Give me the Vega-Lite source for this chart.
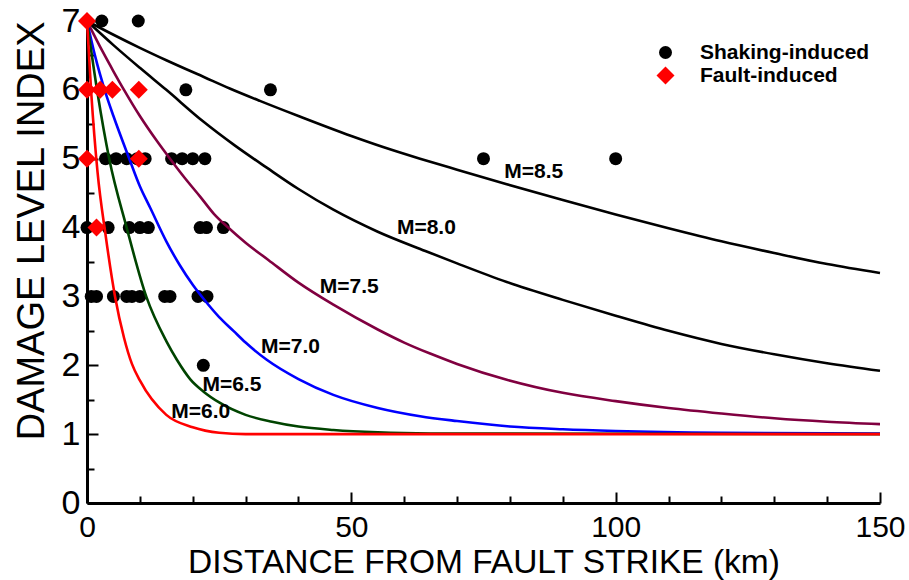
{
  "$schema": "https://vega.github.io/schema/vega-lite/v6.json",
  "width": 793,
  "height": 482,
  "autosize": {"type": "none"},
  "padding": {"left": 87, "top": 21, "right": 29, "bottom": 77},
  "background": "white",
  "datasets": {
    "points": [
      {"x": 2.8, "y": 7, "type": "Shaking-induced"},
      {"x": 9.7, "y": 7, "type": "Shaking-induced"},
      {"x": 18.7, "y": 6, "type": "Shaking-induced"},
      {"x": 34.7, "y": 6, "type": "Shaking-induced"},
      {"x": 3.5, "y": 5, "type": "Shaking-induced"},
      {"x": 5.5, "y": 5, "type": "Shaking-induced"},
      {"x": 7.5, "y": 5, "type": "Shaking-induced"},
      {"x": 9.5, "y": 5, "type": "Shaking-induced"},
      {"x": 11, "y": 5, "type": "Shaking-induced"},
      {"x": 16, "y": 5, "type": "Shaking-induced"},
      {"x": 18, "y": 5, "type": "Shaking-induced"},
      {"x": 20, "y": 5, "type": "Shaking-induced"},
      {"x": 22.3, "y": 5, "type": "Shaking-induced"},
      {"x": 75, "y": 5, "type": "Shaking-induced"},
      {"x": 100, "y": 5, "type": "Shaking-induced"},
      {"x": 0, "y": 4, "type": "Shaking-induced"},
      {"x": 4, "y": 4, "type": "Shaking-induced"},
      {"x": 8, "y": 4, "type": "Shaking-induced"},
      {"x": 10, "y": 4, "type": "Shaking-induced"},
      {"x": 11.6, "y": 4, "type": "Shaking-induced"},
      {"x": 21.4, "y": 4, "type": "Shaking-induced"},
      {"x": 22.6, "y": 4, "type": "Shaking-induced"},
      {"x": 25.8, "y": 4, "type": "Shaking-induced"},
      {"x": 0.8, "y": 3, "type": "Shaking-induced"},
      {"x": 1.8, "y": 3, "type": "Shaking-induced"},
      {"x": 5, "y": 3, "type": "Shaking-induced"},
      {"x": 7.5, "y": 3, "type": "Shaking-induced"},
      {"x": 8.5, "y": 3, "type": "Shaking-induced"},
      {"x": 10, "y": 3, "type": "Shaking-induced"},
      {"x": 14.7, "y": 3, "type": "Shaking-induced"},
      {"x": 15.7, "y": 3, "type": "Shaking-induced"},
      {"x": 21, "y": 3, "type": "Shaking-induced"},
      {"x": 22.7, "y": 3, "type": "Shaking-induced"},
      {"x": 22, "y": 2, "type": "Shaking-induced"},
      {"x": 0, "y": 7, "type": "Fault-induced"},
      {"x": 0, "y": 6, "type": "Fault-induced"},
      {"x": 2.5, "y": 6, "type": "Fault-induced"},
      {"x": 4.8, "y": 6, "type": "Fault-induced"},
      {"x": 9.8, "y": 6, "type": "Fault-induced"},
      {"x": 0, "y": 5, "type": "Fault-induced"},
      {"x": 9.8, "y": 5, "type": "Fault-induced"},
      {"x": 1.8, "y": 4, "type": "Fault-induced"}
    ],
    "curves": [
      {"M": "M=8.5", "x": 0, "y": 7},
      {"M": "M=8.5", "x": 5, "y": 6.8},
      {"M": "M=8.5", "x": 10, "y": 6.61},
      {"M": "M=8.5", "x": 15, "y": 6.43},
      {"M": "M=8.5", "x": 22.3, "y": 6.18},
      {"M": "M=8.5", "x": 27, "y": 6.02},
      {"M": "M=8.5", "x": 32.7, "y": 5.84},
      {"M": "M=8.5", "x": 40, "y": 5.62},
      {"M": "M=8.5", "x": 50, "y": 5.33},
      {"M": "M=8.5", "x": 56, "y": 5.17},
      {"M": "M=8.5", "x": 63, "y": 5.0},
      {"M": "M=8.5", "x": 70, "y": 4.84},
      {"M": "M=8.5", "x": 79.4, "y": 4.63},
      {"M": "M=8.5", "x": 90, "y": 4.4},
      {"M": "M=8.5", "x": 100, "y": 4.19},
      {"M": "M=8.5", "x": 110, "y": 3.99},
      {"M": "M=8.5", "x": 120, "y": 3.8},
      {"M": "M=8.5", "x": 130, "y": 3.63},
      {"M": "M=8.5", "x": 140, "y": 3.47},
      {"M": "M=8.5", "x": 150, "y": 3.34},
      {"M": "M=8.0", "x": 0, "y": 7},
      {"M": "M=8.0", "x": 5, "y": 6.65},
      {"M": "M=8.0", "x": 10, "y": 6.32},
      {"M": "M=8.0", "x": 15, "y": 6.0},
      {"M": "M=8.0", "x": 22, "y": 5.54},
      {"M": "M=8.0", "x": 28, "y": 5.19},
      {"M": "M=8.0", "x": 34, "y": 4.87},
      {"M": "M=8.0", "x": 40, "y": 4.56},
      {"M": "M=8.0", "x": 46.6, "y": 4.26},
      {"M": "M=8.0", "x": 55, "y": 3.94},
      {"M": "M=8.0", "x": 64, "y": 3.66},
      {"M": "M=8.0", "x": 70, "y": 3.48},
      {"M": "M=8.0", "x": 79.4, "y": 3.21},
      {"M": "M=8.0", "x": 90, "y": 2.95},
      {"M": "M=8.0", "x": 100, "y": 2.72},
      {"M": "M=8.0", "x": 110, "y": 2.5},
      {"M": "M=8.0", "x": 120, "y": 2.31},
      {"M": "M=8.0", "x": 130, "y": 2.16},
      {"M": "M=8.0", "x": 140, "y": 2.03},
      {"M": "M=8.0", "x": 150, "y": 1.92},
      {"M": "M=7.5", "x": 0, "y": 7},
      {"M": "M=7.5", "x": 3, "y": 6.55},
      {"M": "M=7.5", "x": 5, "y": 6.27},
      {"M": "M=7.5", "x": 7, "y": 6.0},
      {"M": "M=7.5", "x": 10, "y": 5.62},
      {"M": "M=7.5", "x": 13.2, "y": 5.26},
      {"M": "M=7.5", "x": 15.7, "y": 5.0},
      {"M": "M=7.5", "x": 18.5, "y": 4.72},
      {"M": "M=7.5", "x": 21.4, "y": 4.45},
      {"M": "M=7.5", "x": 24, "y": 4.2},
      {"M": "M=7.5", "x": 26.7, "y": 4.0},
      {"M": "M=7.5", "x": 30, "y": 3.78},
      {"M": "M=7.5", "x": 34.3, "y": 3.53},
      {"M": "M=7.5", "x": 40, "y": 3.2},
      {"M": "M=7.5", "x": 46.6, "y": 2.88},
      {"M": "M=7.5", "x": 55, "y": 2.52},
      {"M": "M=7.5", "x": 60, "y": 2.33},
      {"M": "M=7.5", "x": 64.9, "y": 2.17},
      {"M": "M=7.5", "x": 70, "y": 2.02},
      {"M": "M=7.5", "x": 79.4, "y": 1.79},
      {"M": "M=7.5", "x": 90, "y": 1.6},
      {"M": "M=7.5", "x": 100, "y": 1.48},
      {"M": "M=7.5", "x": 110, "y": 1.38},
      {"M": "M=7.5", "x": 120, "y": 1.3},
      {"M": "M=7.5", "x": 130, "y": 1.23},
      {"M": "M=7.5", "x": 140, "y": 1.18},
      {"M": "M=7.5", "x": 150, "y": 1.145},
      {"M": "M=7.0", "x": 0, "y": 7},
      {"M": "M=7.0", "x": 1.5, "y": 6.5},
      {"M": "M=7.0", "x": 3.5, "y": 5.96},
      {"M": "M=7.0", "x": 5, "y": 5.62},
      {"M": "M=7.0", "x": 8, "y": 5.0},
      {"M": "M=7.0", "x": 10, "y": 4.6},
      {"M": "M=7.0", "x": 12, "y": 4.28},
      {"M": "M=7.0", "x": 15, "y": 3.8},
      {"M": "M=7.0", "x": 17.5, "y": 3.46},
      {"M": "M=7.0", "x": 20, "y": 3.17},
      {"M": "M=7.0", "x": 22, "y": 2.97},
      {"M": "M=7.0", "x": 25, "y": 2.7},
      {"M": "M=7.0", "x": 27.7, "y": 2.5},
      {"M": "M=7.0", "x": 30, "y": 2.33},
      {"M": "M=7.0", "x": 34, "y": 2.08},
      {"M": "M=7.0", "x": 40, "y": 1.8},
      {"M": "M=7.0", "x": 46.6, "y": 1.57},
      {"M": "M=7.0", "x": 55, "y": 1.38},
      {"M": "M=7.0", "x": 63, "y": 1.26},
      {"M": "M=7.0", "x": 70, "y": 1.19},
      {"M": "M=7.0", "x": 80, "y": 1.11},
      {"M": "M=7.0", "x": 90, "y": 1.07},
      {"M": "M=7.0", "x": 100, "y": 1.045},
      {"M": "M=7.0", "x": 120, "y": 1.02},
      {"M": "M=7.0", "x": 150, "y": 1.01},
      {"M": "M=6.5", "x": 0, "y": 7},
      {"M": "M=6.5", "x": 2, "y": 5.95},
      {"M": "M=6.5", "x": 4.2, "y": 5.0},
      {"M": "M=6.5", "x": 7.5, "y": 4.0},
      {"M": "M=6.5", "x": 11.2, "y": 3.0},
      {"M": "M=6.5", "x": 15, "y": 2.35},
      {"M": "M=6.5", "x": 17, "y": 2.08},
      {"M": "M=6.5", "x": 19.5, "y": 1.8},
      {"M": "M=6.5", "x": 22, "y": 1.62},
      {"M": "M=6.5", "x": 25, "y": 1.46},
      {"M": "M=6.5", "x": 30, "y": 1.28},
      {"M": "M=6.5", "x": 35, "y": 1.18},
      {"M": "M=6.5", "x": 40, "y": 1.11},
      {"M": "M=6.5", "x": 46.6, "y": 1.06},
      {"M": "M=6.5", "x": 55, "y": 1.025},
      {"M": "M=6.5", "x": 65, "y": 1.01},
      {"M": "M=6.5", "x": 150, "y": 1.0},
      {"M": "M=6.0", "x": 0, "y": 7},
      {"M": "M=6.0", "x": 0.8, "y": 5.96},
      {"M": "M=6.0", "x": 2, "y": 4.8},
      {"M": "M=6.0", "x": 3.5, "y": 3.9},
      {"M": "M=6.0", "x": 5.3, "y": 3.0},
      {"M": "M=6.0", "x": 7, "y": 2.4},
      {"M": "M=6.0", "x": 8.5, "y": 2.02},
      {"M": "M=6.0", "x": 10, "y": 1.78},
      {"M": "M=6.0", "x": 15, "y": 1.28},
      {"M": "M=6.0", "x": 20, "y": 1.1},
      {"M": "M=6.0", "x": 25, "y": 1.02},
      {"M": "M=6.0", "x": 30, "y": 1.0},
      {"M": "M=6.0", "x": 150, "y": 1.0}
    ],
    "labels": [
      {"M": "M=8.5", "x": 84.5, "y": 4.81},
      {"M": "M=8.0", "x": 64.2, "y": 4.0},
      {"M": "M=7.5", "x": 49.6, "y": 3.13},
      {"M": "M=7.0", "x": 38.5, "y": 2.27},
      {"M": "M=6.5", "x": 27.4, "y": 1.71},
      {"M": "M=6.0", "x": 21.5, "y": 1.32}
    ]
  },
  "layer": [
    {
      "data": {"name": "points"},
      "transform": [{"filter": "datum.type === 'Shaking-induced'"}],
      "mark": {"type": "point", "filled": true, "opacity": 1, "strokeWidth": 0},
      "encoding": {
        "x": {
          "field": "x", "type": "quantitative",
          "scale": {"domain": [0, 150], "nice": false, "zero": false},
          "axis": {
            "orient": "bottom", "values": [10, 20, 30, 40, 60, 70, 80, 90, 110, 120, 130, 140],
            "labels": false, "domain": false, "title": null, "grid": false,
            "tickSize": -7, "tickWidth": 2, "tickColor": "black"
          }
        },
        "y": {
          "field": "y", "type": "quantitative",
          "scale": {"domain": [0, 7], "nice": false, "zero": false},
          "axis": {
            "orient": "left", "values": [0.5, 1.5, 2.5, 3.5, 4.5, 5.5, 6.5],
            "labels": false, "domain": false, "title": null, "grid": false,
            "tickSize": -7, "tickWidth": 2, "tickColor": "black"
          }
        },
        "fill": {
          "field": "type", "type": "nominal",
          "scale": {"domain": ["Shaking-induced", "Fault-induced"], "range": ["black", "#ff0000"]},
          "legend": {"title": null}
        },
        "shape": {
          "field": "type", "type": "nominal",
          "scale": {"domain": ["Shaking-induced", "Fault-induced"], "range": ["circle", "diamond"]},
          "legend": {"title": null}
        },
        "size": {
          "field": "type", "type": "nominal",
          "scale": {"domain": ["Shaking-induced", "Fault-induced"], "range": [169, 324]},
          "legend": {"title": null}
        }
      }
    },
    {
      "data": {"name": "curves"},
      "mark": {"type": "line", "strokeWidth": 2.6, "interpolate": "monotone"},
      "encoding": {
        "x": {
          "field": "x", "type": "quantitative",
          "axis": {
            "orient": "bottom", "values": [0, 50, 100, 150],
            "title": "DISTANCE FROM FAULT STRIKE (km)",
            "grid": false, "tickSize": -11, "tickWidth": 2, "tickColor": "black",
            "domainWidth": 3, "domainColor": "black",
            "labelFont": "Liberation Sans, Arial, sans-serif",
            "labelFontSize": 30, "labelColor": "black",
            "labelBaseline": "alphabetic", "labelPadding": 44,
            "labelFlush": false, "labelOverlap": false, "labelBound": false,
            "titleFont": "Liberation Sans, Arial, sans-serif",
            "titleFontSize": 33.5, "titleFontWeight": "normal", "titleColor": "black",
            "titleY": 69, "titleBaseline": "alphabetic"
          }
        },
        "y": {
          "field": "y", "type": "quantitative",
          "axis": {
            "orient": "left", "values": [0, 1, 2, 3, 4, 5, 6, 7],
            "title": "DAMAGE LEVEL INDEX",
            "grid": false, "tickSize": -11, "tickWidth": 2, "tickColor": "black",
            "domainWidth": 3, "domainColor": "black",
            "labelFont": "Liberation Sans, Arial, sans-serif",
            "labelFontSize": 34, "labelColor": "black", "labelPadding": 18,
            "labelFlush": false, "labelOverlap": false, "labelBound": false,
            "titleFont": "Liberation Sans, Arial, sans-serif",
            "titleFontSize": 38, "titleFontWeight": "normal", "titleColor": "black",
            "titleAnchor": "end", "titleX": -36
          }
        },
        "stroke": {
          "field": "M", "type": "nominal",
          "scale": {
            "domain": ["M=8.5", "M=8.0", "M=7.5", "M=7.0", "M=6.5", "M=6.0"],
            "range": ["black", "black", "#800040", "#0000ff", "#004400", "#ff0000"]
          },
          "legend": null
        },
        "detail": {"field": "M", "type": "nominal"}
      }
    },
    {
      "data": {"name": "points"},
      "transform": [{"filter": "datum.type === 'Fault-induced'"}],
      "mark": {"type": "point", "filled": true, "opacity": 1, "strokeWidth": 0},
      "encoding": {
        "x": {"field": "x", "type": "quantitative", "axis": null},
        "y": {"field": "y", "type": "quantitative", "axis": null},
        "fill": {"field": "type", "type": "nominal", "legend": {"title": null}},
        "shape": {"field": "type", "type": "nominal", "legend": {"title": null}},
        "size": {"field": "type", "type": "nominal", "legend": {"title": null}}
      }
    },
    {
      "data": {"name": "labels"},
      "mark": {
        "type": "text", "font": "Liberation Sans, Arial, sans-serif",
        "fontSize": 21, "fontWeight": "bold", "color": "black",
        "align": "center", "baseline": "middle"
      },
      "encoding": {
        "x": {"field": "x", "type": "quantitative", "axis": null},
        "y": {"field": "y", "type": "quantitative", "axis": null},
        "text": {"field": "M", "type": "nominal"}
      }
    }
  ],
  "resolve": {"axis": {"x": "independent", "y": "independent"}},
  "config": {
    "view": {"stroke": null},
    "legend": {
      "orient": "none", "legendX": 568, "legendY": 21,
      "padding": 0, "labelFont": "Liberation Sans, Arial, sans-serif",
      "labelFontSize": 21, "labelFontWeight": "bold", "labelColor": "black",
      "labelLimit": 400,
      "labelOffset": 24, "rowPadding": 1, "symbolStrokeWidth": 0, "symbolOpacity": 1
    }
  }
}
